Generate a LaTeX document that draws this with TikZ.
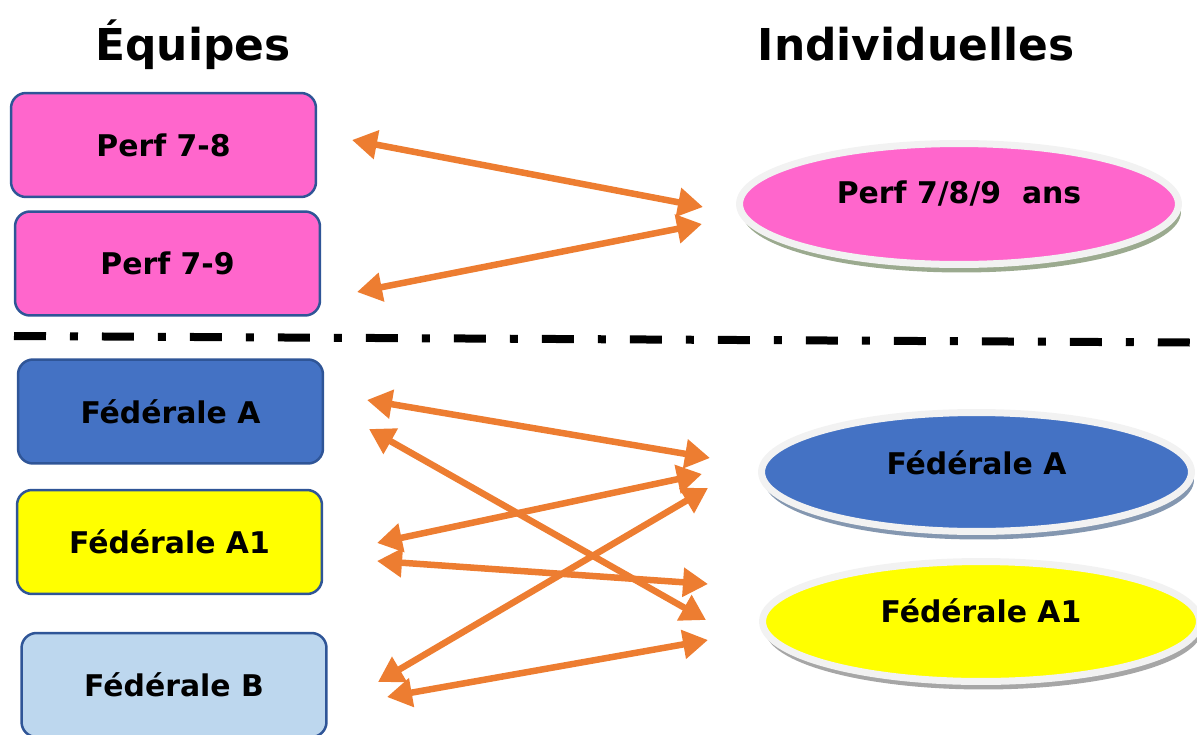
\documentclass[tikz,border=0pt]{standalone}
\usepackage{fontspec}
\setmainfont{DejaVu Sans}
\usepackage{xcolor}
\usepackage{tikz}
\usetikzlibrary{arrows.meta,shapes.geometric,shadows,positioning}
\definecolor{rose}{HTML}{FF66CC}
\definecolor{bleuA}{HTML}{4472C4}
\definecolor{jauneA}{HTML}{FFFF00}
\definecolor{bleuB}{HTML}{BDD7EE}
\definecolor{bordure}{HTML}{2F5597}
\definecolor{anneau}{HTML}{F2F2F2}
\definecolor{fleche}{HTML}{ED7D31}
\definecolor{ombreP}{HTML}{9BAA8F}
\definecolor{ombreA}{HTML}{8497B0}
\definecolor{ombreJ}{HTML}{A6A6A6}

\begin{document}
\begin{tikzpicture}[
					x = 0.02cm, y = -0.02cm,
					every node/.style = {font = \bfseries\fontsize{17}{20}\selectfont},
					titre/.style = {font = \bfseries\fontsize{25}{30}\selectfont, anchor = base},
					equipe/.style = {draw = bordure, line width = 0.05cm, rounded corners = 0.3cm,
						minimum width = 6.1cm, minimum height = 2.08cm, inner sep = 0pt},
					indiv/.style = {ellipse, draw = anneau, line width = 0.14cm, inner sep = 0pt,
						drop shadow = {shadow xshift = 0.05cm, shadow yshift = -0.16cm, fill = #1, opacity = 1}},
					lien/.style = {draw = fleche, line width = 0.13cm,
						{Triangle[length = 0.5cm, width = 0.56cm]}-{Triangle[length = 0.5cm, width = 0.56cm]}},
					separe/.style = {line width = 0.16cm,
						dash pattern = on 0.64cm off 0.48cm on 0.16cm off 0.48cm}
					]

					\useasboundingbox (0,0) rectangle (1197,734);

					\node[titre] (teq) at (193,60) {Équipes};
					\node[titre] (tind) at (916,60) {Individuelles};

					\node[equipe, fill = rose] (perf78) at (163.5,145) {Perf 7-8};
					\node[equipe, fill = rose] (perf79) at (167.5,263.5) {Perf 7-9};
					\node[equipe, fill = bleuA] (fedA) at (170.5,411.5) {Fédérale A};
					\node[equipe, fill = jauneA] (fedA1) at (169.5,542) {Fédérale A1};
					\node[equipe, fill = bleuB] (fedB) at (174,685) {Fédérale B};

					\node[indiv = ombreP, fill = rose, minimum width = 8.78cm, minimum height = 2.42cm]
						(iperf) at (959,204) {\raisebox{0.46cm}{Perf 7/8/9\ \ ans}};
					\node[indiv = ombreA, fill = bleuA, minimum width = 8.6cm, minimum height = 2.38cm]
						(ifedA) at (976.5,472) {\raisebox{0.36cm}{Fédérale A}};
					\node[indiv = ombreJ, fill = jauneA, minimum width = 8.74cm, minimum height = 2.4cm]
						(ifedA1) at (981,621.5) {\raisebox{0.44cm}{Fédérale A1}};

					\coordinate (sepg) at (14,336);
					\coordinate (sepd) at (1190,342.5);
					\draw[separe] (sepg) -- (sepd);

					\coordinate (g1) at (352,140);  \coordinate (d1) at (703,207);
					\coordinate (g2) at (357,292);  \coordinate (d2) at (702,224);
					\coordinate (g3) at (367,400);  \coordinate (d3) at (710,458);
					\coordinate (g4) at (369,429);  \coordinate (d4) at (706,620);
					\coordinate (g5) at (377,543);  \coordinate (d5) at (702,474);
					\coordinate (g6) at (377,561);  \coordinate (d6) at (708,584);
					\coordinate (g7) at (378,682);  \coordinate (d7) at (708,488);
					\coordinate (g8) at (387,697);  \coordinate (d8) at (708,640);

					\foreach \i in {1,...,8}
						\draw[lien] (g\i) -- (d\i);

				\end{tikzpicture}
\end{document}
